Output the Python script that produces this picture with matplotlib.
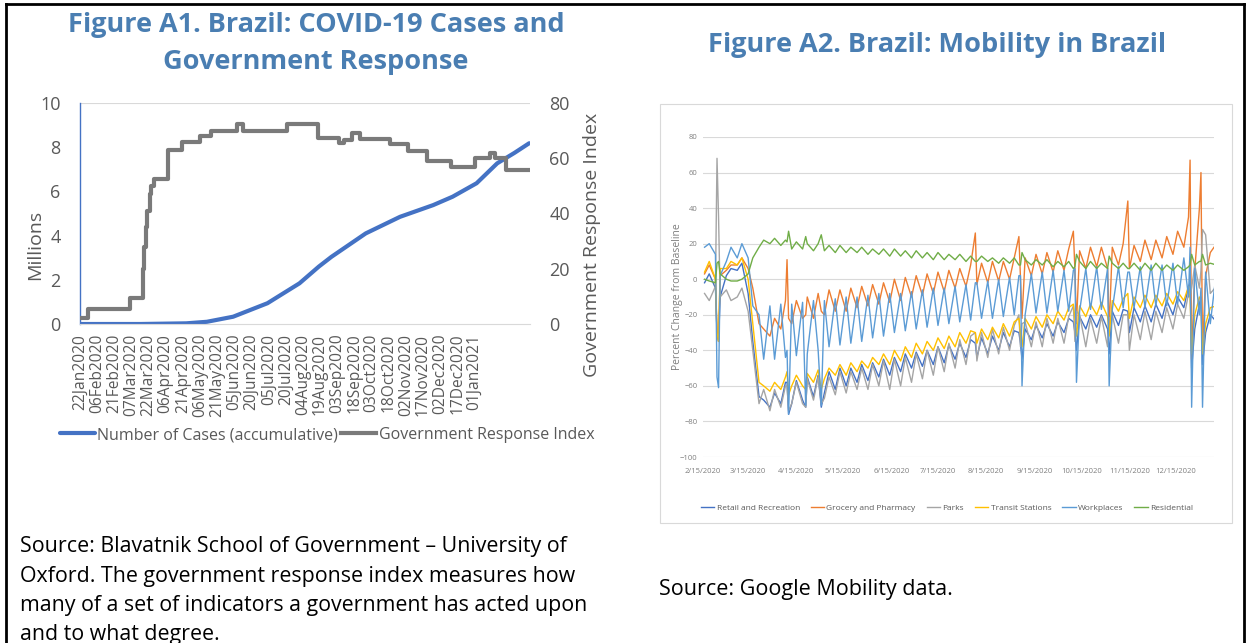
import matplotlib
matplotlib.use('Agg')
import matplotlib.pyplot as plt
import pandas as pd
from matplotlib.lines import Line2D
from matplotlib.patches import Rectangle

plt.rcParams['font.family'] = ['Open Sans', 'DejaVu Sans']

# ---------------- Figure A1 data ----------------
gri_dates = ['2020-01-22', '2020-01-29', '2020-03-06', '2020-03-17', '2020-03-18', '2020-03-20',
             '2020-03-21', '2020-03-23', '2020-03-24', '2020-03-27', '2020-04-08', '2020-04-20',
             '2020-05-06', '2020-05-16', '2020-06-07', '2020-06-13', '2020-07-21', '2020-08-17',
             '2020-09-05', '2020-09-09', '2020-09-16', '2020-09-23', '2020-10-19', '2020-11-04',
             '2020-11-21', '2020-12-12', '2021-01-02', '2021-01-15', '2021-01-19', '2021-01-29',
             '2021-02-18']
gri_values = [2, 5.6, 9.3, 20, 28, 35, 41, 47, 50, 52.5, 63, 66,
              68, 70, 72.4, 70, 72.4, 67.3, 65.6, 66.7, 69, 67, 65, 62.7,
              59, 57, 60, 62, 60, 55.8, 55.8]

case_dates = ['2020-01-22', '2020-03-15', '2020-04-24', '2020-05-12', '2020-06-04', '2020-07-04',
              '2020-08-01', '2020-08-18', '2020-08-29', '2020-09-28', '2020-10-28', '2020-11-26',
              '2020-12-13', '2021-01-03', '2021-01-21', '2021-02-05', '2021-02-18']
case_values = [0, 0, 0.03, 0.1, 0.33, 0.94, 1.84, 2.6, 3.04, 4.1, 4.85, 5.38,
               5.76, 6.37, 7.27, 7.74, 8.18]

a1_ticks = ['22Jan2020', '06Feb2020', '21Feb2020', '07Mar2020', '22Mar2020', '06Apr2020',
            '21Apr2020', '06May2020', '21May2020', '05Jun2020', '20Jun2020', '05Jul2020',
            '20Jul2020', '04Aug2020', '19Aug2020', '03Sep2020', '18Sep2020', '03Oct2020',
            '18Oct2020', '02Nov2020', '17Nov2020', '02Dec2020', '17Dec2020', '01Jan2021']

# ---------------- Figure A2 data ----------------
# two readings a week: Sunday then Wednesday, 16 Feb 2020 .. 10 Jan 2021
sundays = pd.date_range('2020-02-16', '2021-01-10', freq='W-SUN')
wednesdays = pd.date_range('2020-02-19', '2021-01-06', freq='W-WED')
base_dates = sundays.append(wednesdays).sort_values()

event_dates = pd.to_datetime(['2020-02-24', '2020-02-25', '2020-04-09', '2020-04-10', '2020-04-21',
                              '2020-05-01', '2020-08-08', '2020-09-05', '2020-09-07', '2020-10-10',
                              '2020-10-12', '2020-11-02', '2020-11-14', '2020-12-24', '2020-12-25',
                              '2020-12-31', '2021-01-01'])

retail = [-2, 3, -5, -10, 2, 6, 5, 9, -8, -35,
          -66, -68, -72, -64, -70, -58, -70, -57, -68, -55, -66, -54,
          -64, -52, -62, -50, -60, -50, -58, -48, -57, -47,
          -55, -45, -54, -44, -52, -42, -50, -41,
          -49, -40, -48, -38, -47, -37, -45, -36,
          -44, -34, -44, -33, -42, -32, -40, -30, -38, -29,
          -36, -28, -34, -26, -33, -25, -32, -24,
          -30, -22, -30, -21, -28, -20, -27, -20,
          -28, -18, -26, -17, -30, -16, -24, -15, -24, -14,
          -22, -12, -20, -10, -16, -4, -28, -14,
          -30, -20, -24]
retail_ev = [-30, -35, -58, -76, -72, -72, -36, -30, -45, -24, -40, -42, -18, -2, -50, -10, -48]

grocery = [3, 8, 0, 2, 5, 8, 8, 12, 6, -5,
           -25, -28, -32, -22, -28, -12, -25, -12, -22, -10, -22, -8,
           -20, -6, -18, -6, -18, -5, -16, -4, -15, -3,
           -14, -2, -13, 0, -12, 1, -10, 2,
           -9, 3, -8, 4, -7, 5, -5, 6,
           -4, 8, -3, 9, -2, 10, -1, 10, 0, 12,
           1, 12, 2, 14, 3, 15, 4, 16,
           5, 17, 5, 16, 6, 18, 7, 18,
           6, 18, 8, 20, 6, 19, 10, 22, 11, 22,
           12, 24, 14, 27, 18, 35, 5, 40,
           2, 15, 20]
grocery_ev = [-30, -35, 11, -22, -20, -18, 26, 24, -22, 27, -25, -28, 44, 67, -45, 60, -40]

parks = [-8, -12, -4, -10, -6, -12, -10, -5, -18, -40,
         -70, -62, -74, -62, -72, -60, -70, -58, -70, -56, -68, -55,
         -67, -55, -65, -52, -64, -52, -62, -50, -62, -48,
         -60, -46, -62, -45, -60, -44, -58, -42,
         -56, -40, -54, -38, -52, -36, -50, -34,
         -48, -32, -46, -30, -44, -28, -42, -27, -40, -26,
         -38, -24, -38, -24, -38, -22, -36, -22,
         -36, -21, -35, -20, -38, -22, -36, -21,
         -38, -20, -36, -20, -40, -20, -34, -18, -34, -18,
         -30, -16, -28, -14, -22, -8, 8, -5,
         25, -8, -4]
parks_ev = [68, 35, -60, -74, -72, -70, -30, -20, -25, -15, -18, -22, -20, -10, -5, 5, 28]

transit = [4, 10, 0, 6, 6, 10, 8, 12, 0, -25,
           -58, -60, -63, -58, -62, -55, -60, -54, -60, -53, -58, -51,
           -56, -50, -54, -48, -54, -47, -52, -46, -50, -44,
           -48, -42, -48, -40, -46, -38, -44, -36,
           -42, -35, -40, -33, -39, -32, -38, -30,
           -36, -29, -36, -28, -34, -27, -33, -25, -32, -24,
           -30, -22, -28, -21, -27, -20, -25, -18,
           -23, -16, -22, -15, -21, -14, -20, -13,
           -21, -12, -18, -11, -22, -10, -16, -9, -16, -9,
           -15, -8, -14, -7, -12, -4, -20, -10,
           -25, -16, -15]
transit_ev = [-30, -35, -52, -65, -62, -62, -30, -22, -38, -14, -32, -32, -8, -8, -42, -12, -42]

workplaces = [18, 20, 14, 2, 10, 18, 12, 20, 12, -15,
              -20, -45, -15, -45, -14, -44, -14, -43, -13, -42, -12, -40,
              -12, -38, -11, -37, -10, -36, -10, -35, -9, -33,
              -8, -32, -8, -30, -8, -29, -7, -28,
              -6, -27, -5, -26, -5, -25, -4, -24,
              -3, -23, -2, -22, -1, -22, 0, -21, 1, -20,
              2, -20, 3, -19, 4, -19, 5, -18,
              5, -18, 6, -18, 6, -17, 7, -17,
              6, -17, 7, -16, 4, -16, 7, -16, 8, -15,
              8, -15, 9, -14, 12, -10, 6, -20,
              4, -25, 5]
workplaces_ev = [-55, -61, -40, -76, -71, -71, -2, 2, -60, 5, -58, -60, 4, 18, -72, -5, -72]

residential = [0, -1, -2, 3, 0, -1, -1, 0, 3, 12,
               18, 22, 20, 23, 19, 22, 17, 21, 17, 20, 16, 20,
               16, 19, 15, 19, 15, 18, 15, 18, 14, 17,
               14, 17, 13, 17, 13, 16, 12, 16,
               12, 15, 11, 15, 11, 14, 11, 14,
               10, 13, 10, 13, 10, 12, 9, 12, 9, 12,
               8, 11, 8, 11, 8, 11, 7, 10,
               7, 10, 7, 10, 6, 10, 6, 9,
               6, 9, 6, 9, 6, 9, 5, 9, 5, 9,
               5, 8, 5, 8, 5, 7, 8, 10,
               8, 9, 8]
residential_ev = [9, 10, 21, 27, 24, 25, 10, 8, 15, 6, 14, 13, 6, 8, 14, 10, 14]

mob_names = ['Retail and Recreation', 'Grocery and Pharmacy', 'Parks',
             'Transit Stations', 'Workplaces', 'Residential']
mob_colors = ['#4472C4', '#ED7D31', '#A5A5A5', '#FFC000', '#5B9BD5', '#70AD47']
mob_ticks = ['2/15/2020', '3/15/2020', '4/15/2020', '5/15/2020', '6/15/2020', '7/15/2020',
             '8/15/2020', '9/15/2020', '10/15/2020', '11/15/2020', '12/15/2020']

W, H = 1248, 643
def fx(px):
    return px / W
def fy(py):
    return 1 - py / H

title_blue = '#4A7EB2'
txt_grey = '#595959'

fig = plt.figure(figsize=(W / 100, H / 100), dpi=100)

# ---------------- Figure A1 ----------------
ax1 = fig.add_axes([fx(80), fy(324), (530 - 80) / W, (324 - 103) / H])
ax1.plot(pd.to_datetime(case_dates), case_values, color='#4472C4', lw=3.0,
         solid_capstyle='round', label='Number of Cases (accumulative)')
ax1.set_ylim(0, 10)
ax1.set_yticks(range(0, 11, 2))
start = pd.Timestamp('2020-01-22')
ax1.set_xlim(start, start + pd.Timedelta(days=393.7))
tick_dates = pd.to_datetime(a1_ticks, format='%d%b%Y')
ax1.set_xticks(tick_dates)
ax1.set_xticklabels(a1_ticks, rotation=90, fontsize=11.2, color=txt_grey)
ax1.tick_params(axis='x', length=0, pad=7)
ax1.tick_params(axis='y', length=0, pad=14, labelsize=13, labelcolor=txt_grey)
ax1.axhline(10, color='#D9D9D9', lw=0.8)
for s in ['top', 'right']:
    ax1.spines[s].set_visible(False)
ax1.spines['left'].set_color('#4472C4')
ax1.spines['left'].set_linewidth(1.0)
ax1.spines['bottom'].set_color('#D9D9D9')
ax1.set_ylabel('Millions', fontsize=14, color=txt_grey)
ax1.yaxis.set_label_coords(-0.08, 0.36)

ax2 = ax1.twinx()
ax2.plot(pd.to_datetime(gri_dates), gri_values, drawstyle='steps-post', color='#7A7A7A',
         lw=3.0, label='Government Response Index')
ax2.set_ylim(0, 80)
ax2.set_yticks(range(0, 81, 20))
ax2.tick_params(axis='y', length=0, pad=14, labelsize=13, labelcolor=txt_grey)
for s in ax2.spines.values():
    s.set_visible(False)
ax2.set_ylabel('Government Response Index', fontsize=14, color=txt_grey, rotation=90)
ax2.yaxis.set_label_coords(1.117, 0.36)

h1, l1 = ax1.get_legend_handles_labels()
h2, l2 = ax2.get_legend_handles_labels()
fig.legend(h1 + h2, l1 + l2, loc='center', bbox_to_anchor=(fx(327), fy(435)), ncol=2,
           frameon=False, fontsize=11.5, handlelength=2.2, handletextpad=0.15,
           columnspacing=0.2, labelcolor=txt_grey)

fig.text(fx(316), fy(25), 'Figure A1. Brazil: COVID-19 Cases and', ha='center', va='center',
         fontsize=19.5, fontweight='bold', color=title_blue)
fig.text(fx(316), fy(62), 'Government Response', ha='center', va='center',
         fontsize=19.5, fontweight='bold', color=title_blue)

src_lines = ['Source: Blavatnik School of Government \u2013 University of',
             'Oxford. The government response index measures how',
             'many of a set of indicators a government has acted upon',
             'and to what degree.']
for line, base in zip(src_lines, [552, 582, 611, 640]):
    fig.text(fx(20), fy(base), line, ha='left', va='baseline', fontsize=15.4, color='black')

# ---------------- Figure A2 ----------------
ax3 = fig.add_axes([fx(703), fy(457), (1214 - 703) / W, (457 - 137) / H])
series = [(retail, retail_ev), (grocery, grocery_ev), (parks, parks_ev),
          (transit, transit_ev), (workplaces, workplaces_ev), (residential, residential_ev)]
for (vals, ev), name, col in zip(series, mob_names, mob_colors):
    s = pd.concat([pd.Series(vals, index=base_dates),
                   pd.Series(ev, index=event_dates)]).sort_index()
    ax3.plot(s.index, s.values, color=col, lw=1.0, label=name)
ax3.set_ylim(-100, 80)
ax3.set_yticks(range(-100, 81, 20))
ax3.set_xlim(pd.Timestamp('2020-02-15'), pd.Timestamp('2021-01-08 09:00'))
ax3.set_xticks(pd.to_datetime(mob_ticks, format='%m/%d/%Y'))
ax3.set_xticklabels(mob_ticks)
ax3.grid(axis='y', color='#D9D9D9', lw=0.8)
ax3.set_axisbelow(True)
for s in ax3.spines.values():
    s.set_visible(False)
ax3.tick_params(axis='both', length=0, labelsize=5.5, labelcolor='#7F7F7F')
ax3.tick_params(axis='y', pad=4)
ax3.tick_params(axis='x', pad=8)
ax3.set_ylabel('Percent Change from Baseline', fontsize=7.5, color='#7F7F7F')
ax3.yaxis.set_label_coords((683 - 703) / 511, (457 - 297) / 320)

h3, l3 = ax3.get_legend_handles_labels()
fig.legend(h3, l3, loc='center', bbox_to_anchor=(fx(947), fy(508)), ncol=6, frameon=False,
           fontsize=6, handlelength=1.6, handletextpad=0.3, columnspacing=1.3,
           labelcolor='#595959')

fig.add_artist(Rectangle((fx(660), fy(523)), (1232 - 660) / W, (523 - 104) / H,
                         transform=fig.transFigure, fill=False, edgecolor='#D9D9D9', lw=0.8))

fig.text(fx(937), fy(45), 'Figure A2. Brazil: Mobility in Brazil', ha='center', va='center',
         fontsize=19.5, fontweight='bold', color=title_blue)
fig.text(fx(659), fy(595), 'Source: Google Mobility data.', ha='left', va='baseline',
         fontsize=15.5, color='black')

# outer frame
fig.add_artist(Line2D([fx(6), fx(6)], [0, fy(4)], transform=fig.transFigure, color='black', lw=2))
fig.add_artist(Line2D([fx(6), fx(1244)], [fy(4), fy(4)], transform=fig.transFigure, color='black', lw=2))
fig.add_artist(Line2D([fx(1244), fx(1244)], [fy(4), 0], transform=fig.transFigure, color='black', lw=2))

fig.savefig('out.png', dpi=100)
